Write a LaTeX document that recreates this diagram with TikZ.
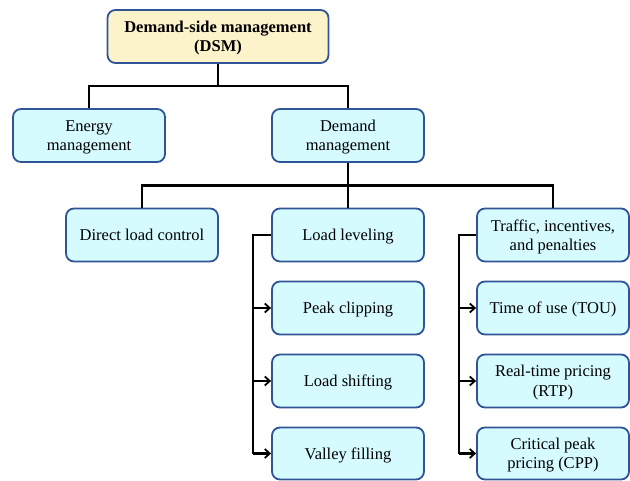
\documentclass[tikz,border=0pt]{standalone}
\usepackage{fontspec}
\setmainfont{Liberation Serif}
\usetikzlibrary{arrows.meta}
\definecolor{boxedge}{HTML}{2F5597}
\definecolor{boxfill}{HTML}{D5FBFF}
\definecolor{topfill}{HTML}{FDF3CB}
\tikzset{
  box/.style={draw=boxedge, fill=boxfill, line width=1.8pt, rounded corners=8pt,
    minimum width=152pt, minimum height=53pt, align=center, inner sep=2pt,
    text depth=0pt, font=\fontsize{16.5}{19.5}\selectfont},
  topbox/.style={box, fill=topfill, minimum width=221pt, font=\fontsize{16.5}{19.5}\selectfont\bfseries},
  link/.style={draw=black, line width=2.2pt},
  feed/.style={link, -{Straight Barb[length=5pt,width=9pt,line width=1.8pt]}}
}
\begin{document}
\begin{tikzpicture}[x=1pt,y=1pt]
\useasboundingbox (0,0) rectangle (630,480);
% top level
\node[topbox] (dsm) at (218,443.5) {Demand-side management\\(DSM)};
\node[box] (em) at (89,344.5) {Energy\\management};
\node[box] (dm) at (348,344.5) {Demand\\management};
% second level
\node[box] (dlc) at (142,245) {Direct load control};
\node[box] (ll) at (348,245) {Load leveling};
\node[box] (tip) at (553,245) {Traffic, incentives,\\and penalties};
% load leveling options
\node[box] (pc) at (348,172) {Peak clipping};
\node[box] (ls) at (348,99) {Load shifting};
\node[box, minimum height=52pt] (vf) at (348,26.5) {Valley filling};
% pricing options
\node[box] (tou) at (553,172) {Time of use (TOU)};
\node[box] (rtp) at (553,99) {Real-time pricing\\(RTP)};
\node[box, minimum height=52pt] (cpp) at (553,26.5) {Critical peak\\pricing (CPP)};
% junctions
\coordinate (j1) at (218,394);
\coordinate (j2) at (348,294.5);
\coordinate (b1) at (253,245);
\coordinate (b2) at (459,245);
% tree connectors
\draw[link] (dsm.south) -- (j1);
\draw[link] (em.north) |- (j1) -| (dm.north);
\draw[link] (dm.south) -- (j2);
\draw[link] (dlc.north) |- (j2) -| (tip.north);
\draw[link] (j2) -- (ll.north);
% brackets
\draw[link] (ll.west) -- (b1) -- (b1 |- vf.west);
\draw[feed] (b1 |- pc.west) -- (pc.west);
\draw[feed] (b1 |- ls.west) -- (ls.west);
\draw[feed] (b1 |- vf.west) -- (vf.west);
\draw[link] (tip.west) -- (b2) -- (b2 |- cpp.west);
\draw[feed] (b2 |- tou.west) -- (tou.west);
\draw[feed] (b2 |- rtp.west) -- (rtp.west);
\draw[feed] (b2 |- cpp.west) -- (cpp.west);
\end{tikzpicture}
\end{document}
